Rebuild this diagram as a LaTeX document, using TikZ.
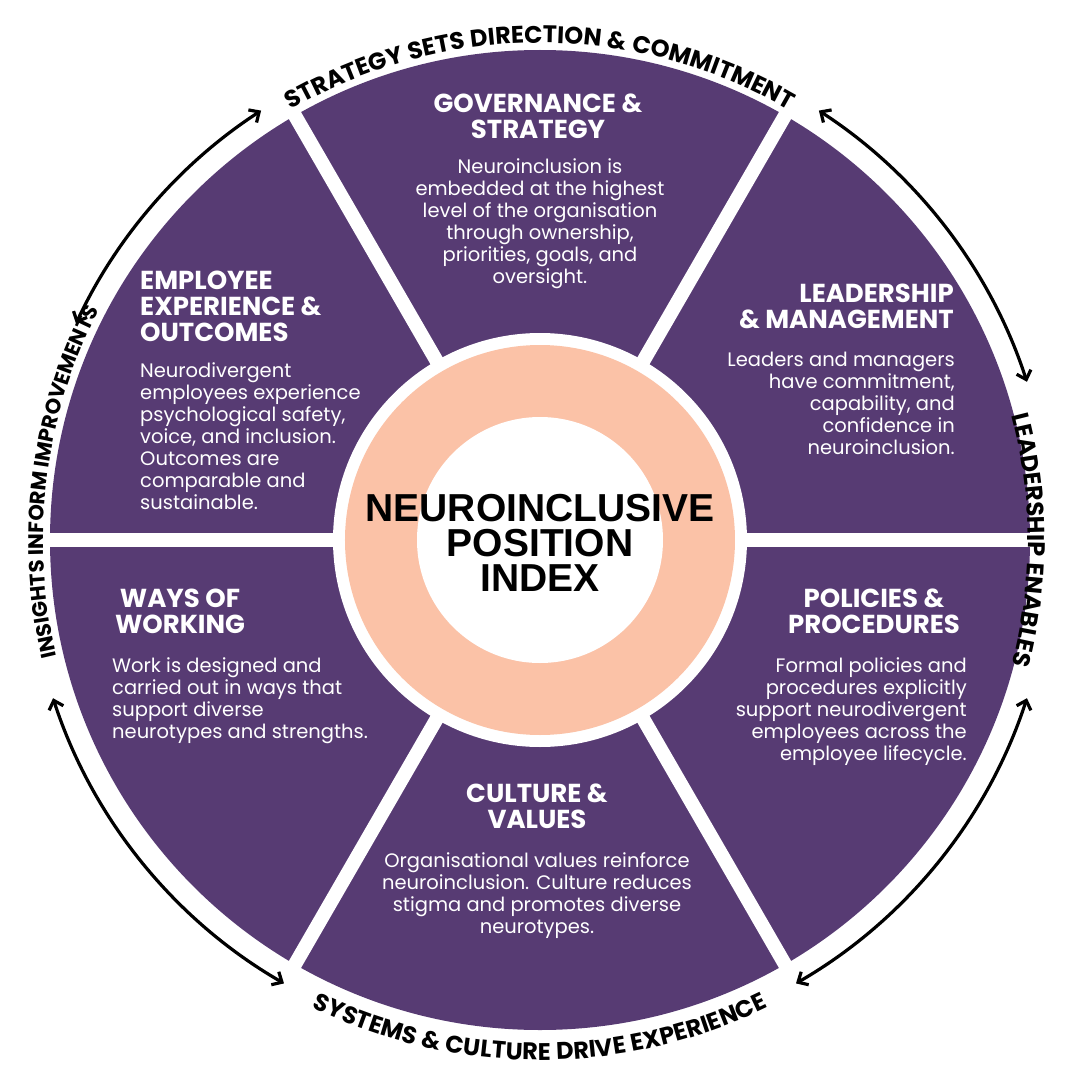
\documentclass[tikz,border=0pt]{standalone}
\usepackage{fontspec}
\setmainfont{Poppins}
\newfontfamily\titlefont{Liberation Sans}
\newfontfamily\arclabfont[LetterSpace=3]{Poppins}
\newfontfamily\arclabfontb[LetterSpace=0]{Poppins}
\newcommand\labsize{\arclabfont\fontsize{24}{24}\selectfont\bfseries}
\newcommand\labsizeb{\arclabfontb\fontsize{21}{21}\selectfont\bfseries}
\usetikzlibrary{decorations.text,arrows.meta}
\definecolor{purp}{HTML}{573B73}
\definecolor{peach}{HTML}{FBC2A7}
\begin{document}
\begin{tikzpicture}[x=1pt,y=1pt,
  head/.style={text=white,font=\fontsize{26}{26}\selectfont\bfseries,inner sep=0pt},
  body/.style={text=white,font=\fontsize{19.5}{22}\selectfont,inner sep=0pt},
  cyc/.style={line width=3.2pt,{Straight Barb[length=8pt,width=15pt]}-{Straight Barb[length=8pt,width=15pt]}}]
\useasboundingbox (-540,-540) rectangle (540,540);
\fill[purp] (0,0) circle (490);
\foreach \a in {0,60,...,300}
  \draw[white,line width=14pt] (0,0) -- (\a:500);
\fill[white] (0,0) circle (207);
\fill[peach] (0,0) circle (195);
\fill[white] (0,0) circle (123);
\node[font=\titlefont\fontsize{39}{35}\selectfont\bfseries,align=center,inner sep=0pt] (title) at (0,-3)
 {NEUROINCLUSIVE\\POSITION\\INDEX};
% headings and bodies
\node[head,align=center,anchor=north] (h1) at (-2,446) {GOVERNANCE \&\\STRATEGY};
\node[body,align=center,anchor=north] (b1) at (0,382) {Neuroinclusion is\\embedded at the highest\\level of the organisation\\through ownership,\\priorities, goals, and\\oversight.};
\node[head,align=right,anchor=north east] (h2) at (414,256) {LEADERSHIP\\\& MANAGEMENT};
\node[body,align=right,anchor=north east] (b2) at (415,188) {Leaders and managers\\have commitment,\\capability, and\\confidence in\\neuroinclusion.};
\node[head,align=left,anchor=north west] (h3) at (-400,269) {EMPLOYEE\\EXPERIENCE \&\\OUTCOMES};
\node[body,align=left,anchor=north west] (b3) at (-400,178) {Neurodivergent\\employees experience\\psychological safety,\\voice, and inclusion.\\Outcomes are\\comparable and\\sustainable.};
\node[head,align=center,anchor=north] (h4) at (-360,-49) {WAYS OF\\WORKING};
\node[body,align=left,anchor=north west] (b4) at (-428,-117) {Work is designed and\\carried out in ways that\\support diverse\\neurotypes and strengths.};
\node[head,align=center,anchor=north] (h5) at (334,-49) {POLICIES \&\\PROCEDURES};
\node[body,align=right,anchor=north east] (b5) at (427,-117) {Formal policies and\\procedures explicitly\\support neurodivergent\\employees across the\\employee lifecycle.};
\node[head,align=center,anchor=north] (h6) at (-3,-244) {CULTURE \&\\VALUES};
\node[body,align=center,anchor=north] (b6) at (-3,-312) {Organisational values reinforce\\neuroinclusion. Culture reduces\\stigma and promotes diverse\\neurotypes.};
% outer labels
\path[postaction={decorate},decoration={text along path,text align=center,text={|\labsize|STRATEGY SETS DIRECTION {\&} COMMITMENT}}] (155:497) arc[start angle=155,end angle=25,radius=497];
\path[postaction={decorate},decoration={text along path,text align=center,text={|\labsize|LEADERSHIP ENABLES}}] (40:488) arc[start angle=40,end angle=-40,radius=488];
\path[postaction={decorate},decoration={text along path,text align=center,text={|\labsize|SYSTEMS {\&} CULTURE DRIVE EXPERIENCE}}] (205:520) arc[start angle=205,end angle=335,radius=520];
\path[postaction={decorate},decoration={text along path,text align=center,text={|\labsizeb|INSIGHTS INFORM IMPROVEMENTS}}] (220:497) arc[start angle=220,end angle=126,radius=497];
% cycle arrows
\coordinate (a1) at (123:512); \coordinate (a2) at (155:508);
\draw[cyc] (a1) arc[start angle=123,end angle=155,radius=512];
\coordinate (c1) at (57:512); \coordinate (c2) at (18:508);
\draw[cyc] (c1) arc[start angle=57,end angle=18,radius=512];
\coordinate (d1) at (-18:512); \coordinate (d2) at (-60:508);
\draw[cyc] (d1) arc[start angle=-18,end angle=-60,radius=512];
\coordinate (e1) at (198:512); \coordinate (e2) at (240:508);
\draw[cyc] (e1) arc[start angle=198,end angle=240,radius=512];
\end{tikzpicture}
\end{document}
